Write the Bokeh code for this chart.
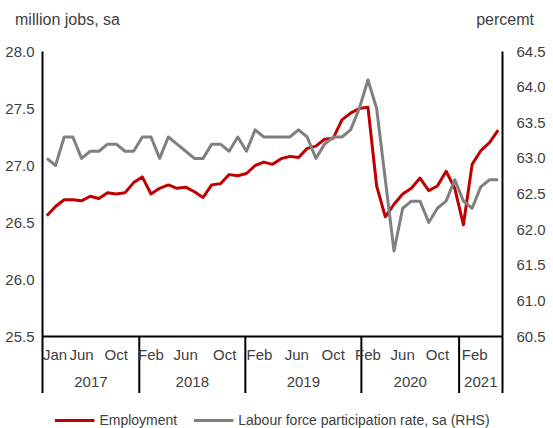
from bokeh.plotting import figure
from bokeh.models import (Range1d, LinearAxis, FixedTicker, NumeralTickFormatter, Span,
                          Legend, LegendItem, Div)
from bokeh.layouts import column
from bokeh.core.properties import value
from bokeh.embed import file_html
from bokeh.resources import INLINE

# ---- data (monthly, Jan 2017 - May 2021) ----
employment = [26.56, 26.64, 26.70, 26.70, 26.69, 26.73, 26.71, 26.76, 26.75, 26.76,
              26.85, 26.90, 26.75, 26.80, 26.83, 26.80, 26.81, 26.77, 26.72, 26.83,
              26.84, 26.92, 26.91, 26.93, 27.00, 27.03, 27.01, 27.06, 27.08, 27.07,
              27.15, 27.17, 27.23, 27.24, 27.40, 27.46, 27.50, 27.51, 26.82, 26.55,
              26.66, 26.75, 26.80, 26.89, 26.78, 26.82, 26.95, 26.80, 26.48, 27.01,
              27.13, 27.20, 27.31]
participation = [63.0, 62.9, 63.3, 63.3, 63.0, 63.1, 63.1, 63.2, 63.2, 63.1,
                 63.1, 63.3, 63.3, 63.0, 63.3, 63.2, 63.1, 63.0, 63.0, 63.2,
                 63.2, 63.1, 63.3, 63.1, 63.4, 63.3, 63.3, 63.3, 63.3, 63.4,
                 63.3, 63.0, 63.2, 63.3, 63.3, 63.4, 63.7, 64.1, 63.7, 62.7,
                 61.7, 62.3, 62.4, 62.4, 62.1, 62.3, 62.4, 62.7, 62.4, 62.3,
                 62.6, 62.7, 62.7]
months = list(range(len(employment)))

month_labels = ["Jan", "Jun", "Oct", "Feb", "Jun", "Oct", "Feb", "Jun", "Oct",
                "Feb", "Jun", "Oct", "Feb"]
month_label_pos = [0.95, 4, 8, 12, 16, 20.5, 24.5, 28.8, 33, 37, 41, 45, 49.3]
year_labels = ["2017", "2018", "2019", "2020", "2021"]
year_edges = [-0.5, 10.65, 22.87, 36.24, 47.5, 52.5]

left_ticks = [25.5, 26.0, 26.5, 27.0, 27.5, 28.0]
right_ticks = [60.5, 61.0, 61.5, 62.0, 62.5, 63.0, 63.5, 64.0, 64.5]

left_unit = "million jobs, sa"
right_unit = "percemt"
series_names = ["Employment", "Labour force participation rate, sa (RHS)"]

FONT = "Liberation Sans"
TXT = "#404040"
RED = "#C00000"
GREY = "#808080"

W = 553
HEAD_H = 30
LEG_H = 35

# ---- unit captions above the chart ----
head = Div(
    text=(f'<div style="position:relative;width:{W}px;height:{HEAD_H}px;'
          f'font-family:\'{FONT}\';font-size:16px;color:{TXT};">'
          f'<span style="position:absolute;left:15px;top:9px;white-space:nowrap;">{left_unit}</span>'
          f'<span style="position:absolute;right:19px;top:9px;white-space:nowrap;">{right_unit}</span>'
          '</div>'),
    width=W, height=HEAD_H, margin=0)

# ---- main chart ----
p = figure(width=W, height=363, output_backend="svg", toolbar_location=None,
           x_range=Range1d(-0.5, 52.5), y_range=Range1d(25.0, 28.0),
           x_axis_location=None,
           min_border_left=42, min_border_right=51, min_border_top=21,
           min_border_bottom=0, margin=0)
p.extra_y_ranges = {"rhs": Range1d(59.7, 64.5)}
p.outline_line_color = None
p.grid.grid_line_color = None
p.background_fill_color = "white"
p.border_fill_color = "white"


def style_axis(ax, ticks, standoff):
    ax.ticker = FixedTicker(ticks=ticks)
    ax.formatter = NumeralTickFormatter(format="0.0")
    ax.major_tick_line_color = None
    ax.minor_tick_line_color = None
    ax.major_tick_out = 0
    ax.minor_tick_out = 0
    ax.axis_line_color = "black"
    ax.axis_line_width = 2
    ax.major_label_text_font = FONT
    ax.major_label_text_font_size = "15px"
    ax.major_label_text_color = TXT
    ax.major_label_standoff = standoff


style_axis(p.yaxis[0], left_ticks, 8)
right_axis = LinearAxis(y_range_name="rhs")
style_axis(right_axis, right_ticks, 14)
p.add_layout(right_axis, "right")

# baseline of the category axis
p.add_layout(Span(location=left_ticks[0], dimension="width", line_color="black", line_width=2))

# year separators
seps = year_edges[1:-1]
p.segment(x0=seps, y0=[left_ticks[0]] * len(seps), x1=seps, y1=[25.0] * len(seps),
          line_color="black", line_width=2)

# month labels and year labels
p.text(x=month_label_pos, y=[25.342] * len(month_labels), text=month_labels,
       text_align="center", text_baseline="middle", text_font=value(FONT),
       text_font_size="15px", text_color=TXT)
year_mid = [(year_edges[i] + year_edges[i + 1]) / 2 for i in range(len(year_labels))]
p.text(x=year_mid, y=[25.105] * len(year_labels), text=year_labels,
       text_align="center", text_baseline="middle", text_font=value(FONT),
       text_font_size="15px", text_color=TXT)

# series
p.line(months, employment, line_color=RED, line_width=3, line_join="round")
p.line(months, participation, y_range_name="rhs", line_color=GREY, line_width=3,
       line_join="round")

# ---- legend strip below the chart (series drawn out of view, only keys show) ----
lg = figure(width=W, height=LEG_H, output_backend="svg", toolbar_location=None,
            x_range=Range1d(-0.5, 52.5), y_range=Range1d(0, 1),
            x_axis_location=None, y_axis_location=None,
            min_border_left=0, min_border_right=0, min_border_top=0, min_border_bottom=0,
            margin=0)
lg.outline_line_color = None
lg.grid.grid_line_color = None
k1 = lg.line(months, employment, line_color=RED, line_width=3)
k2 = lg.line(months, participation, line_color=GREY, line_width=3)
legend = Legend(items=[LegendItem(label=series_names[0], renderers=[k1]),
                       LegendItem(label=series_names[1], renderers=[k2])],
                orientation="horizontal", location="bottom_center",
                glyph_width=40, glyph_height=16, label_standoff=5, spacing=16,
                padding=0, margin=0, border_line_color=None, background_fill_alpha=0,
                label_text_font=FONT, label_text_font_size="14px", label_text_color=TXT,
                label_height=16)
lg.add_layout(legend)

layout = column(head, p, lg, spacing=0, margin=0)
open("out.html", "w").write(file_html(layout, INLINE))
